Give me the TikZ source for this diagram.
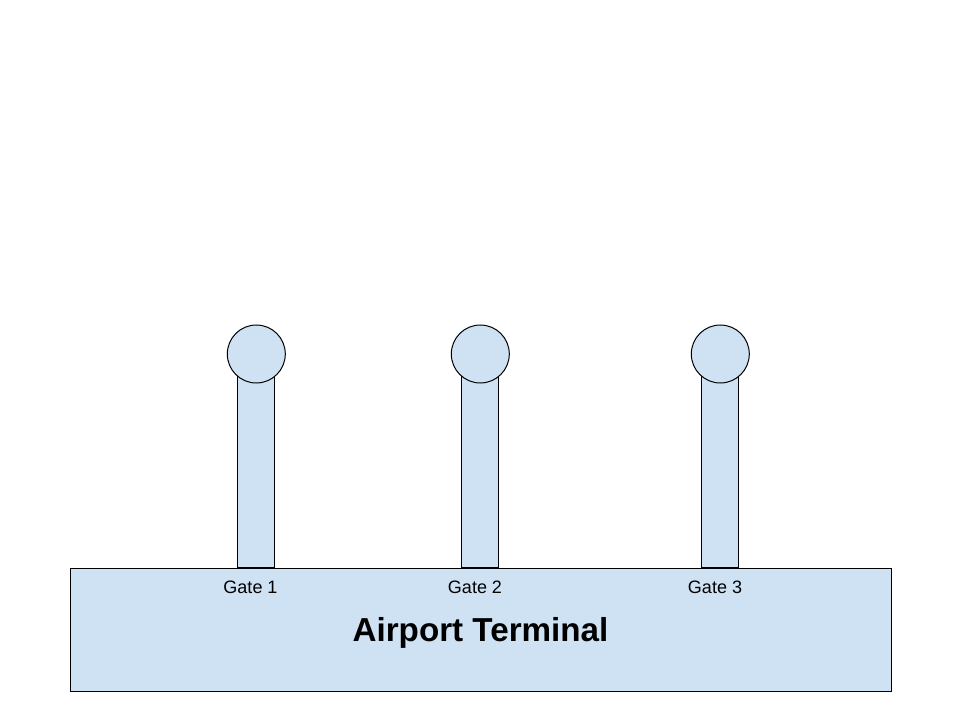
\documentclass[tikz,border=0pt]{standalone}
\usepackage{fontspec}
\setmainfont{Liberation Sans}
\definecolor{paleblue}{HTML}{CFE2F3}
\begin{document}
\begin{tikzpicture}[x=0.75pt,y=-0.75pt,
  shapebox/.style={draw=black,fill=paleblue,line width=0.75pt,inner sep=0pt,outer sep=0pt},
  bridge/.style={shapebox,rectangle,minimum width=27.75pt,minimum height=146.25pt},
  pod/.style={shapebox,circle,minimum size=43.5pt},
  gatelabel/.style={inner sep=0pt,font=\fontsize{13.5pt}{16pt}\selectfont},
  titlelabel/.style={inner sep=0pt,font=\fontsize{24.9pt}{29pt}\selectfont\bfseries}]
\useasboundingbox (0,0) rectangle (960,720);
\node[shapebox,rectangle,minimum width=615.75pt,minimum height=92.25pt] (terminal) at (480.5,629.75) {};
\node[bridge] (b1) at (255.5,470) {};
\node[bridge] (b2) at (479.5,470) {};
\node[bridge] (b3) at (719.5,470) {};
\node[pod] (p1) at (256.3,354) {};
\node[pod] (p2) at (480.3,354) {};
\node[pod] (p3) at (720.3,354) {};
\node[gatelabel] (g1) at (250.5,587) {Gate 1};
\node[gatelabel] (g2) at (475,587) {Gate 2};
\node[gatelabel] (g3) at (715,587) {Gate 3};
\node[titlelabel] (title) at (480.5,633) {Airport Terminal};
\end{tikzpicture}
\end{document}
